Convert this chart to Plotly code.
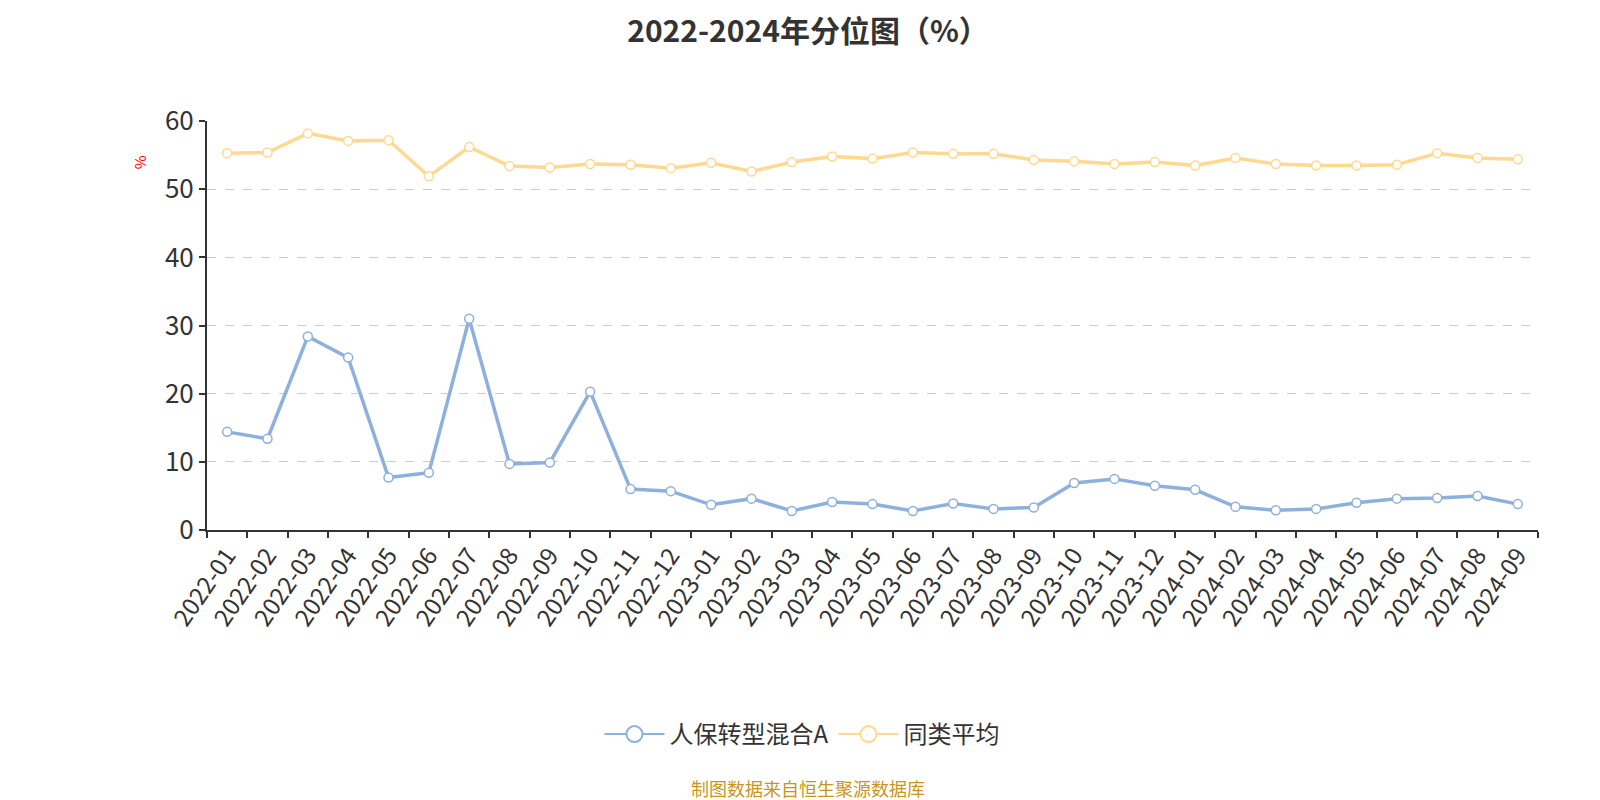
import plotly.graph_objects as go

months = [
    "2022-01", "2022-02", "2022-03", "2022-04", "2022-05", "2022-06",
    "2022-07", "2022-08", "2022-09", "2022-10", "2022-11", "2022-12",
    "2023-01", "2023-02", "2023-03", "2023-04", "2023-05", "2023-06",
    "2023-07", "2023-08", "2023-09", "2023-10", "2023-11", "2023-12",
    "2024-01", "2024-02", "2024-03", "2024-04", "2024-05", "2024-06",
    "2024-07", "2024-08", "2024-09",
]

fund_pct = [
    14.4, 13.4, 28.4, 25.3, 7.7, 8.4, 31.0, 9.7, 9.9, 20.3, 6.0, 5.7,
    3.7, 4.6, 2.8, 4.1, 3.8, 2.8, 3.9, 3.1, 3.3, 6.9, 7.5, 6.5,
    5.9, 3.4, 2.9, 3.1, 4.0, 4.6, 4.7, 5.0, 3.8,
]

peer_avg = [
    55.3, 55.4, 58.2, 57.1, 57.2, 51.9, 56.2, 53.4, 53.2, 53.7, 53.6, 53.1,
    53.9, 52.6, 54.0, 54.8, 54.5, 55.4, 55.2, 55.2, 54.3, 54.1, 53.7, 54.0,
    53.5, 54.6, 53.7, 53.5, 53.5, 53.6, 55.3, 54.6, 54.4,
]

series_names = ["人保转型混合A", "同类平均"]
colors = ["#8eb0dd", "#ffd891"]

font_family = "Noto Sans CJK SC, Noto Sans, sans-serif"

fig = go.Figure()

for name, vals, col in zip(series_names, [fund_pct, peer_avg], colors):
    fig.add_trace(go.Scatter(
        x=months, y=vals, name=name, mode="lines+markers",
        line=dict(color=col, width=3.5),
        marker=dict(size=9, color="white", line=dict(color=col, width=1.5)),
        showlegend=False,
    ))
    # legend-only copy with a larger open circle
    fig.add_trace(go.Scatter(
        x=[None], y=[None], name=name, mode="lines+markers",
        line=dict(color=col, width=2),
        marker=dict(size=23, color="white", line=dict(color=col, width=2)),
    ))

fig.update_layout(
    width=1600, height=800,
    margin=dict(l=199, r=70, t=113, b=278),
    paper_bgcolor="white", plot_bgcolor="white",
    font=dict(family=font_family, color="#333333"),
    title=dict(
        text="<b>2022-2024年分位图（%）</b>",
        x=0.5, xanchor="center", y=0.971, yanchor="middle",
        font=dict(size=30, color="#333333"),
    ),
    legend=dict(
        orientation="h", x=0.447, xanchor="center", y=-0.5, yanchor="middle",
        font=dict(size=24, color="#333333"),
        itemwidth=60,
    ),
    showlegend=True,
)

fig.update_xaxes(
    type="category",
    range=[-0.5, len(months) - 0.5],
    tickson="boundaries",
    ticks="outside", ticklen=6, tickwidth=2, tickcolor="#333333",
    showline=True, linecolor="#333333", linewidth=2,
    showgrid=False,
    tickangle=-55,
    tickfont=dict(size=24, color="#333333"),
)

fig.update_yaxes(
    range=[0, 60.02], dtick=10,
    ticks="outside", ticklen=6, tickwidth=2, tickcolor="#333333",
    showline=True, linecolor="#333333", linewidth=2,
    showgrid=True, gridcolor="#cccccc", griddash="dash", gridwidth=1.2,
    zeroline=False,
    tickfont=dict(size=26, color="#333333"),
)

fig.add_annotation(
    text="%", xref="paper", yref="paper", x=-0.06, y=0.92,
    showarrow=False, textangle=-90,
    font=dict(size=15, color="red"),
)

fig.add_annotation(
    text="制图数据来自恒生聚源数据库", xref="paper", yref="paper",
    x=0.4515, y=-0.63, xanchor="center", yanchor="middle",
    showarrow=False, font=dict(size=18, color="#c8961e"),
)

fig.write_html("out.html")
